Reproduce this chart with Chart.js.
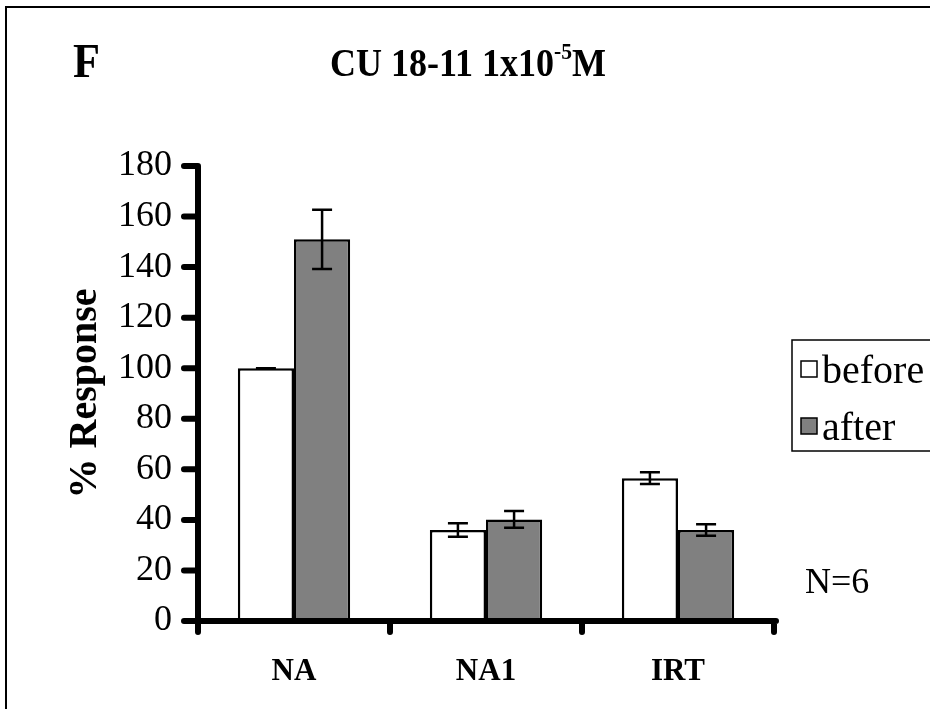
<!DOCTYPE html>
<html>
<head>
<meta charset="utf-8">
<title>CU 18-11 1x10-5M</title>
<script src="https://cdn.jsdelivr.net/npm/chart.js@4.4.0/dist/chart.umd.min.js"></script>
<style>
  html, body { margin: 0; padding: 0; background: #fff; }
  #wrap { width: 930px; height: 709px; position: relative; }
</style>
</head>
<body>
<div id="wrap"><canvas id="responseChart" width="930" height="709"></canvas></div>
<script>
const categories = ['NA', 'NA1', 'IRT'];
const seriesNames = ['before', 'after'];
const beforeValues = [100, 36, 56.5];
const afterValues = [151, 40.2, 36];
const beforeErrors = [0, 2.7, 2.3];
const afterErrors = [11.7, 3.3, 2.3];
const yTicks = [0, 20, 40, 60, 80, 100, 120, 140, 160, 180];

const SERIF = '"Liberation Serif", "Times New Roman", serif';

// draw text squeezed horizontally, the scan looks condensed
function squeezeText(ctx, text, x, y, font, sx, align) {
    ctx.save();
    ctx.font = font;
    ctx.fillStyle = '#000';
    ctx.textBaseline = 'alphabetic';
    ctx.textAlign = align || 'left';
    ctx.translate(x, y);
    ctx.scale(sx, 1);
    ctx.fillText(text, 0, 0);
    ctx.restore();
}

const errorBars = {
    id: 'errorBars',
    afterDatasetsDraw(chart) {
        const ctx = chart.ctx;
        const y = chart.scales.y;
        ctx.save();
        ctx.strokeStyle = '#000';
        ctx.lineWidth = 2.5;
        chart.data.datasets.forEach((ds, i) => {
            const meta = chart.getDatasetMeta(i);
            meta.data.forEach((bar, j) => {
                const v = ds.data[j];
                const e = ds.errors[j];
                const yTop = y.getPixelForValue(v + e);
                const yBot = y.getPixelForValue(v - e);
                ctx.beginPath();
                ctx.moveTo(bar.x, yTop);
                ctx.lineTo(bar.x, yBot);
                ctx.moveTo(bar.x - 10, yTop);
                ctx.lineTo(bar.x + 10, yTop);
                ctx.moveTo(bar.x - 10, yBot);
                ctx.lineTo(bar.x + 10, yBot);
                ctx.stroke();
            });
        });
        ctx.restore();
    }
};

const decorations = {
    id: 'decorations',
    afterDraw(chart) {
        const ctx = chart.ctx;
        const area = chart.chartArea;
        const y = chart.scales.y;

        ctx.save();
        // outer frame
        ctx.strokeStyle = '#000';
        ctx.lineWidth = 2;
        ctx.strokeRect(6, 7, 940, 720);

        // thick axes with rounded tick marks
        ctx.lineCap = 'round';
        ctx.lineWidth = 6;
        ctx.beginPath();
        ctx.moveTo(area.left, y.getPixelForValue(yTicks[yTicks.length - 1]));
        ctx.lineTo(area.left, area.bottom + 6);
        yTicks.forEach(t => {
            const py = y.getPixelForValue(t);
            ctx.moveTo(area.left - 14, py);
            ctx.lineTo(area.left, py);
        });
        ctx.moveTo(area.left - 10, area.bottom);
        ctx.lineTo(area.right + 2, area.bottom);
        const step = (area.right - area.left) / categories.length;
        for (let k = 0; k <= categories.length; k++) {
            const px = area.left + k * step;
            ctx.moveTo(px, area.bottom);
            ctx.lineTo(px, area.bottom + 11);
        }
        ctx.stroke();
        ctx.restore();

        // panel letter and title
        squeezeText(ctx, 'F', 73, 77, 'bold 48px ' + SERIF, 0.92);
        const sx = 0.9;
        const main = 'CU 18-11 1x10';
        ctx.save();
        ctx.font = 'bold 40px ' + SERIF;
        const w1 = ctx.measureText(main).width * sx;
        ctx.font = 'bold 24px ' + SERIF;
        const w2 = ctx.measureText('-5').width * sx;
        ctx.restore();
        const tx = 330;
        squeezeText(ctx, main, tx, 76, 'bold 40px ' + SERIF, sx);
        squeezeText(ctx, '-5', tx + w1, 59, 'bold 24px ' + SERIF, sx);
        squeezeText(ctx, 'M', tx + w1 + w2, 76, 'bold 40px ' + SERIF, sx);

        // legend box
        ctx.save();
        ctx.strokeStyle = '#000';
        ctx.lineWidth = 1.5;
        ctx.strokeRect(792, 340, 160, 111);
        const legendY = [383, 440];
        chart.data.datasets.forEach((ds, i) => {
            ctx.fillStyle = ds.backgroundColor;
            ctx.fillRect(801, legendY[i] - 22, 16, 16);
            ctx.strokeRect(801, legendY[i] - 22, 16, 16);
            squeezeText(ctx, ds.label, 822, legendY[i], '40px ' + SERIF, 1);
        });
        ctx.restore();

        squeezeText(ctx, 'N=6', 805, 593, '36px ' + SERIF, 1);
    }
};

const ctx = document.getElementById('responseChart').getContext('2d');
const responseChart = new Chart(ctx, {
    type: 'bar',
    data: {
        labels: categories,
        datasets: [{
            label: seriesNames[0],
            data: beforeValues,
            errors: beforeErrors,
            backgroundColor: '#ffffff',
            borderColor: '#000000',
            borderWidth: 2.5
        }, {
            label: seriesNames[1],
            data: afterValues,
            errors: afterErrors,
            backgroundColor: '#808080',
            borderColor: '#000000',
            borderWidth: 2.5
        }]
    },
    options: {
        responsive: false,
        animation: false,
        devicePixelRatio: 1,
        categoryPercentage: 0.585,
        barPercentage: 1.0,
        layout: { padding: { top: 166, right: 156, bottom: 0, left: 0 } },
        plugins: {
            legend: { display: false },
            tooltip: { enabled: false }
        },
        scales: {
            x: {
                grid: { display: false, drawTicks: false },
                border: { display: false },
                ticks: { color: '#000', font: { family: SERIF, size: 31, weight: 'bold' }, padding: 32 },
                afterFit: s => { s.height = 88; }
            },
            y: {
                min: 0,
                max: 180,
                grid: { display: false, drawTicks: false },
                border: { display: false },
                ticks: { stepSize: 20, color: '#000', font: { family: SERIF, size: 36 }, padding: 26 },
                title: {
                    display: true,
                    text: '% Response',
                    color: '#000',
                    font: { family: SERIF, size: 40, weight: 'bold' },
                    padding: { top: 62, bottom: 0 }
                },
                afterFit: s => { s.width = 198; }
            }
        }
    },
    plugins: [errorBars, decorations]
});
</script>
</body>
</html>
